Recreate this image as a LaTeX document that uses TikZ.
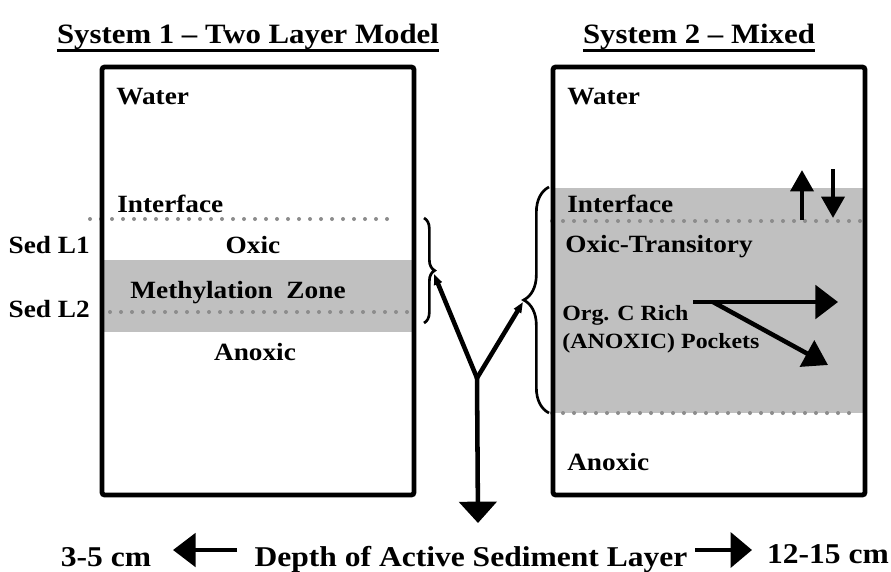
\documentclass[tikz,border=0pt]{standalone}
\usepackage{fontspec}
\setmainfont{Liberation Serif}
\usetikzlibrary{arrows.meta,decorations.pathreplacing}
\definecolor{zonegray}{RGB}{192,192,192}
\definecolor{dotgray}{RGB}{140,140,140}
\tikzset{
  wall/.style={line width=3.6pt, rounded corners=2pt},
  sedline/.style={dotgray, line width=3pt, line cap=round, dash pattern=on 0pt off 8.25pt},
  txt/.style={inner sep=0pt, xscale=1.1, transform shape},
  lbl/.style={txt, font=\fontsize{18.6}{21}\selectfont\bfseries},
  title lbl/.style={txt, font=\fontsize{21}{24}\selectfont\bfseries},
  small lbl/.style={txt, font=\fontsize{16.3}{19}\selectfont\bfseries},
  big lbl/.style={txt, font=\fontsize{21.5}{24}\selectfont\bfseries},
  fat/.style={line width=3.4pt},
  bracket/.style={decorate, decoration={brace, amplitude=#1}, line width=2pt},
}
\begin{document}
\begin{tikzpicture}[x=0.75pt, y=-0.75pt]
  \useasboundingbox (0,0) rectangle (891,571);
  % titles
  \node[title lbl, anchor=base] (t1) at (248,43) {System 1 -- Two Layer Model};
  \node[title lbl, anchor=base] (t2) at (699,43) {System 2 -- Mixed};
  \draw[line width=2pt] ([yshift=-1pt]t1.south west) -- ([yshift=-1pt]t1.south east);
  \draw[line width=2pt] ([yshift=-1pt]t2.south west) -- ([yshift=-1pt]t2.south east);

  % system 1: two layer column
  \fill[zonegray] (102,260) rectangle (414,332);
  \draw[sedline] (90,219) -- (393,219);
  \draw[sedline] (110,312) -- (413,312);
  \draw[wall] (102,67) rectangle (414,495);
  \node[lbl, anchor=base west] (w1) at (116,104) {Water};
  \node[lbl, anchor=base west] (i1) at (117,212) {Interface};
  \node[lbl, anchor=base east] (l1) at (90,253) {Sed L1};
  \node[lbl, anchor=base east] (l2) at (90,317) {Sed L2};
  \node[lbl, anchor=base] (oxic) at (253,253) {Oxic};
  \node[lbl, anchor=base] (mz) at (238,298) {Methylation\ \ Zone};
  \node[lbl, anchor=base] (an1) at (255,360) {Anoxic};

  % system 2: mixed column
  \fill[zonegray] (552,188) rectangle (865,413);
  \draw[sedline] (552,221) -- (862,221);
  \draw[sedline] (552,413) -- (850,413);
  \draw[wall] (553,67) rectangle (865,495);
  \node[lbl, anchor=base west] (w2) at (567,104) {Water};
  \node[lbl, anchor=base west] (i2) at (567,212) {Interface};
  \node[lbl, anchor=base west] (ot) at (565,252) {Oxic-Transitory};
  \node[small lbl, anchor=base west] (org) at (562,320) {Org. C Rich};
  \node[small lbl, anchor=base west] (pk) at (562,348) {(ANOXIC) Pockets};
  \node[lbl, anchor=base west] (an2) at (567,470) {Anoxic};

  % exchange across the interface
  \coordinate (up0) at (802,220);  \coordinate (up1) at (802,170);
  \coordinate (dn0) at (833,169);  \coordinate (dn1) at (833,218);
  \draw[fat, -{Triangle[length=16pt,width=17pt]}] (up0) -- (up1);
  \draw[fat, -{Triangle[length=16pt,width=17pt]}] (dn0) -- (dn1);

  % pockets
  \coordinate (p0) at (693,302); \coordinate (p1) at (838,302);
  \coordinate (q0) at (713,302); \coordinate (q1) at (828,365);
  \draw[fat, -{Triangle[length=17pt,width=25pt]}] (p0) -- (p1);
  \draw[fat, -{Triangle[length=18pt,width=22pt]}] (q0) -- (q1);

  % braces and the fork between them
  \draw[bracket=8pt] (424,218) -- (424,323);
  \draw[bracket=19pt] (549,413) -- (549,187);
  \coordinate (b1) at (434,274);
  \coordinate (b2) at (523,302);
  \coordinate (fork) at (477,378);
  \coordinate (down) at (478,523);
  \draw[fat, -{Triangle[length=8pt,width=6pt]}] (fork) -- (b1);
  \draw[fat, -{Triangle[length=8pt,width=6pt]}] (fork) -- (b2);
  \draw[fat, -{Triangle[length=16pt,width=28pt]}] (fork) -- (down);

  % depth scale
  \node[big lbl, anchor=base] (depth) at (471,566) {Depth of Active Sediment Layer};
  \node[big lbl, anchor=base] (shallow) at (106,566) {3-5 cm};
  \node[big lbl, anchor=base] (deep) at (828,563) {12-15 cm};
  \coordinate (s0) at (237,550); \coordinate (s1) at (173,550);
  \coordinate (d0) at (695,550); \coordinate (d1) at (752,550);
  \draw[fat, -{Triangle[length=17pt,width=25pt]}] (s0) -- (s1);
  \draw[fat, -{Triangle[length=16pt,width=26pt]}] (d0) -- (d1);
\end{tikzpicture}
\end{document}
